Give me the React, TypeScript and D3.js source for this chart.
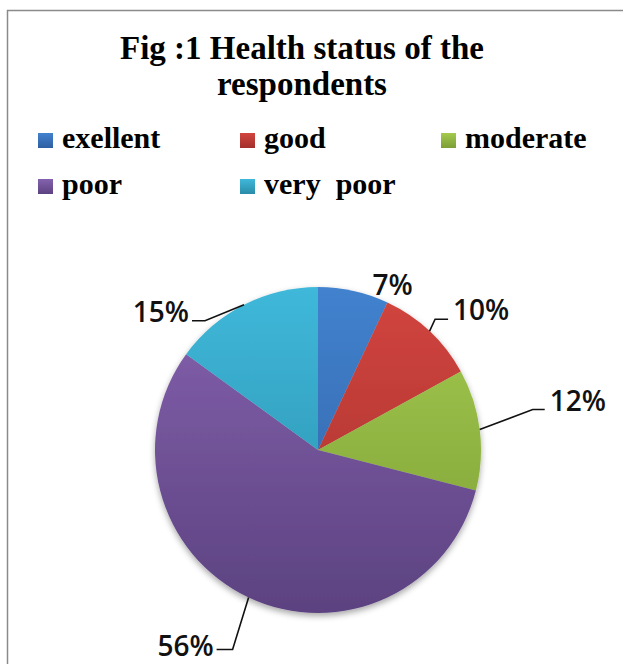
import React, { useEffect, useRef } from 'react';
import * as d3 from 'd3';

// data
const categories = ['exellent', 'good', 'moderate', 'poor', 'very  poor'];
const values = [7, 10, 12, 56, 15];
const labels = ['7%', '10%', '12%', '56%', '15%'];
const titleLines = ['Fig :1 Health status of the', 'respondents'];

// colours (top of gradient, bottom of gradient)
const topColors = ['#4282CE', '#D2453F', '#A4CA4E', '#8562AF', '#3FB8DA'];
const bottomColors = ['#2E5FA2', '#A32F2C', '#7C9E36', '#5C4280', '#2A8CA8'];

// leader line layout, offsets from the slice's outer mid point
const leaders = [
	{ dx: 19, dy: 3, h: 0, line: false },
	{ dx: 5.5, dy: -12, h: 13, line: true },
	{ dx: 53, dy: -20, h: 12, line: true },
	{ dx: -16, dy: 52, h: -16, line: true },
	{ dx: -39, dy: 16, h: -13, line: true },
];

const W = 623, H = 664;
const cx = 318, cy = 450, r = 163;

const App = () => {
	const ref = useRef<SVGSVGElement>(null);
	useEffect(() => {
		document.body.style.margin = '0';
		const svg = d3.select(ref.current);
		svg.selectAll('*').remove();

		const defs = svg.append('defs');
		categories.forEach((c, i) => {
			const g = defs.append('linearGradient')
				.attr('id', 'grad' + i)
				.attr('gradientUnits', 'userSpaceOnUse')
				.attr('x1', 0).attr('y1', -r).attr('x2', 0).attr('y2', r);
			g.append('stop').attr('offset', '0%').attr('stop-color', topColors[i]);
			g.append('stop').attr('offset', '100%').attr('stop-color', bottomColors[i]);
			const lg = defs.append('linearGradient')
				.attr('id', 'lgrad' + i)
				.attr('x1', 0).attr('y1', 0).attr('x2', 0).attr('y2', 1);
			lg.append('stop').attr('offset', '0%').attr('stop-color', topColors[i]);
			lg.append('stop').attr('offset', '100%').attr('stop-color', bottomColors[i]);
		});
		const f = defs.append('filter').attr('id', 'shadow')
			.attr('x', '-20%').attr('y', '-20%').attr('width', '140%').attr('height', '140%');
		f.append('feDropShadow').attr('dx', 0).attr('dy', 3).attr('stdDeviation', 3)
			.attr('flood-color', '#000').attr('flood-opacity', 0.35);

		svg.append('rect').attr('width', W).attr('height', H).attr('fill', '#fff');

		// border
		svg.append('path')
			.attr('d', `M7.5,${H} V10.5 H${W}`)
			.attr('fill', 'none').attr('stroke', '#8a8a8a').attr('stroke-width', 1.5);

		// title
		svg.append('text')
			.attr('x', 302).attr('y', 59)
			.attr('text-anchor', 'middle')
			.attr('font-family', '"Liberation Serif", "Times New Roman", serif')
			.attr('font-weight', 'bold').attr('font-size', 33)
			.selectAll('tspan').data(titleLines).enter().append('tspan')
			.attr('x', 302).attr('dy', (d, i) => i === 0 ? 0 : 36)
			.text(d => d);

		// legend
		const colX = [38, 240, 441];
		const rowY = [148, 194];
		const leg = svg.append('g').selectAll('g').data(categories).enter().append('g')
			.attr('transform', (d, i) => `translate(${colX[i % 3]},${rowY[Math.floor(i / 3)]})`);
		leg.append('rect').attr('x', 0).attr('y', -15).attr('width', 15).attr('height', 15)
			.attr('fill', (d, i) => `url(#lgrad${i})`);
		leg.append('text').attr('x', 24).attr('y', 0)
			.attr('font-family', '"Liberation Serif", "Times New Roman", serif')
			.attr('font-weight', 'bold').attr('font-size', 30)
			.style('white-space', 'pre')
			.text(d => d);

		// pie
		const pie = d3.pie<number>().sort(null).value(d => d);
		const arcs = pie(values);
		const arc = d3.arc<d3.PieArcDatum<number>>().innerRadius(0).outerRadius(r);
		svg.append('g')
			.attr('transform', `translate(${cx},${cy})`)
			.attr('filter', 'url(#shadow)')
			.selectAll('path').data(arcs).enter().append('path')
			.attr('d', arc)
			.attr('fill', (d, i) => `url(#grad${i})`);

		// labels
		const lg = svg.append('g');
		arcs.forEach((a, i) => {
			const mid = (a.startAngle + a.endAngle) / 2;
			const ex = cx + r * Math.sin(mid);
			const ey = cy - r * Math.cos(mid);
			const L = leaders[i];
			const bx = ex + L.dx, by = ey + L.dy;
			const endX = bx + L.h;
			if (L.line) {
				lg.append('path')
					.attr('d', `M${ex},${ey} L${bx},${by} L${endX},${by}`)
					.attr('fill', 'none').attr('stroke', '#111').attr('stroke-width', 1.6);
			}
			const right = L.h >= 0;
			lg.append('text')
				.attr('x', L.line ? (right ? endX + 5 : endX - 3) : bx)
				.attr('y', by + (i === 3 ? 7 : 1))
				.attr('text-anchor', right ? 'start' : 'end')
				.attr('font-family', '"Open Sans", "Noto Sans", sans-serif')
				.attr('font-weight', 600).attr('font-size', 28)
				.attr('fill', '#111')
				.text(labels[i]);
		});
	});
	return <svg ref={ref} width={W} height={H} style={{ display: 'block' }}></svg>;
};

export default App;
